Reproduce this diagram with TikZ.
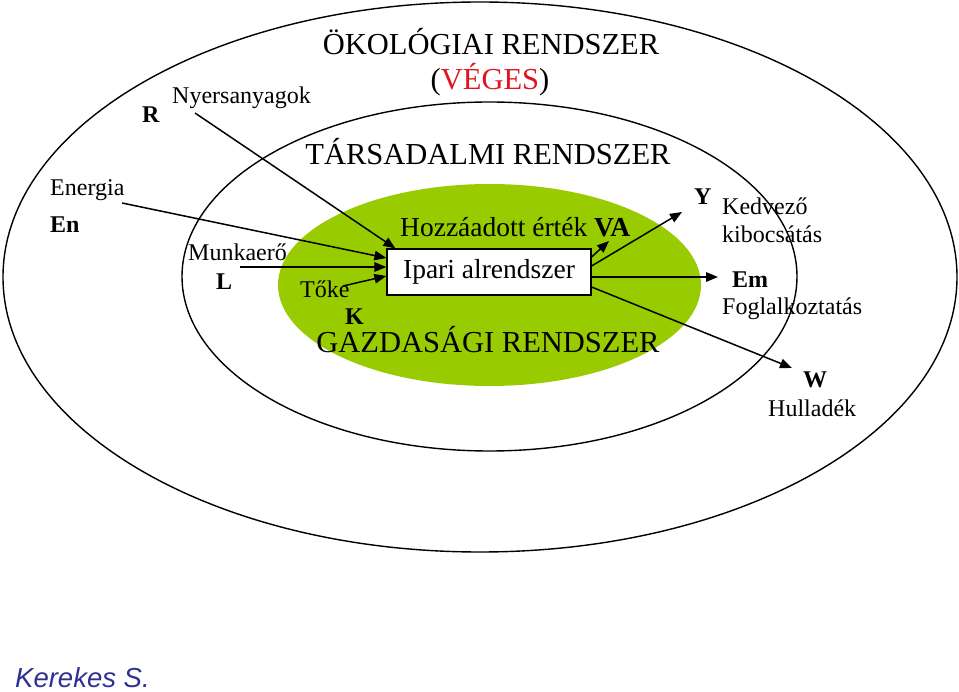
\documentclass[tikz,border=0pt]{standalone}
\usepackage{fontspec}
\setmainfont{Liberation Serif}
\newfontfamily\authorfont{Liberation Sans}
\usepackage{tikz}
\usetikzlibrary{arrows.meta, positioning, calc}
\definecolor{econ}{HTML}{99CC00}
\definecolor{finite}{HTML}{E0141E}
\definecolor{author}{HTML}{2E3192}
\tikzset{
  ring/.style   ={draw=black, line width=1.4pt},
  title/.style  ={font=\fontsize{30.5}{32}\selectfont, inner sep=0pt, anchor=base},
  lbl/.style    ={font=\fontsize{24}{26}\selectfont, inner sep=0pt, anchor=base west},
  sym/.style    ={lbl, font=\fontsize{24}{26}\selectfont\bfseries},
  subsys/.style ={draw=black, line width=1.2pt, fill=white, minimum width=204pt,
                  minimum height=46pt, inner sep=0pt, font=\fontsize{27.5}{30}\selectfont},
  flow/.style   ={-{Triangle[length=12pt,width=9.5pt]}, line width=1.5pt, draw=black}
}

\begin{document}
\begin{tikzpicture}[x=1pt, y=-1pt]
  \useasboundingbox (0,0) rectangle (959,692);

  % nested systems
  \draw[ring] (480,277) ellipse [x radius=477pt, y radius=275pt];
  \draw[ring] (489.5,276.5) ellipse [x radius=307.5pt, y radius=174.5pt];
  \fill[econ] (489.5,285) ellipse [x radius=211.5pt, y radius=101pt];

  \node[title] (eco)  at (491,55)  {ÖKOLÓGIAI RENDSZER};
  \node[title] (fin)  at (490,90)  {(\textcolor{finite}{VÉGES})};
  \node[title] (soc)  at (488,165) {TÁRSADALMI RENDSZER};
  \node[title] (gdp)  at (488,353) {GAZDASÁGI RENDSZER};

  \node[subsys] (ipar) at (489,272) {Ipari alrendszer};
  \node[lbl, font=\fontsize{27.5}{30}\selectfont] (va) at (400,237)
    {Hozzáadott érték \textbf{VA}};

  % inputs
  \node[sym] (r)    at (142,123) {R};
  \node[lbl] (nyers) at (172,104) {Nyersanyagok};
  \node[lbl] (ener) at (50,196)  {Energia};
  \node[sym] (en)   at ([yshift=-37pt]ener.base west) {En};
  \node[lbl] (munk) at (188,261) {Munkaerő};
  \node[sym] (l)    at (216,290) {L};
  \node[lbl] (toke) at (300,298) {Tőke};
  \node[sym] (k)    at (345,325) {K};

  % outputs
  \node[sym] (y)    at (694,205) {Y};
  \node[lbl] (kedv) at (722,215) {Kedvező};
  \node[lbl] (kibo) at ([yshift=-28pt]kedv.base west) {kibocsátás};
  \node[sym] (em)   at (732,288) {Em};
  \node[lbl] (fogl) at (722,315) {Foglalkoztatás};
  \node[sym, anchor=base] (w) at (815,388) {W};
  \node[lbl] (hull) at (768,417) {Hulladék};

  \node[lbl, font=\fontsize{27.5}{29}\authorfont\itshape, text=author] (auth) at (15,687) {Kerekes S.};

  \coordinate (nyers-s) at (195,113);
  \coordinate (ener-s)  at (122,203);
  \coordinate (munk-s)  at (240,267);
  \coordinate (toke-s)  at (343,286);
  \coordinate (va-e)    at (609,241);
  \coordinate (y-e)     at (682,212);
  \coordinate (em-e)    at (718,277);
  \coordinate (w-e)     at (792,368);

  \draw[flow] (nyers-s) -- ([xshift=9pt]ipar.north west);
  \draw[flow] (ener-s)  -- ([yshift=14pt]ipar.west);
  \draw[flow] (munk-s)  -- ([yshift=5pt]ipar.west);
  \draw[flow] (toke-s)  -- ([yshift=-4pt]ipar.west);
  \draw[flow] ([yshift=15pt]ipar.east) -- (va-e);
  \draw[flow] ([yshift=6pt]ipar.east)  -- (y-e);
  \draw[flow] ([yshift=-5pt]ipar.east) -- (em-e);
  \draw[flow] ([yshift=-15pt]ipar.east) -- (w-e);
\end{tikzpicture}
\end{document}
